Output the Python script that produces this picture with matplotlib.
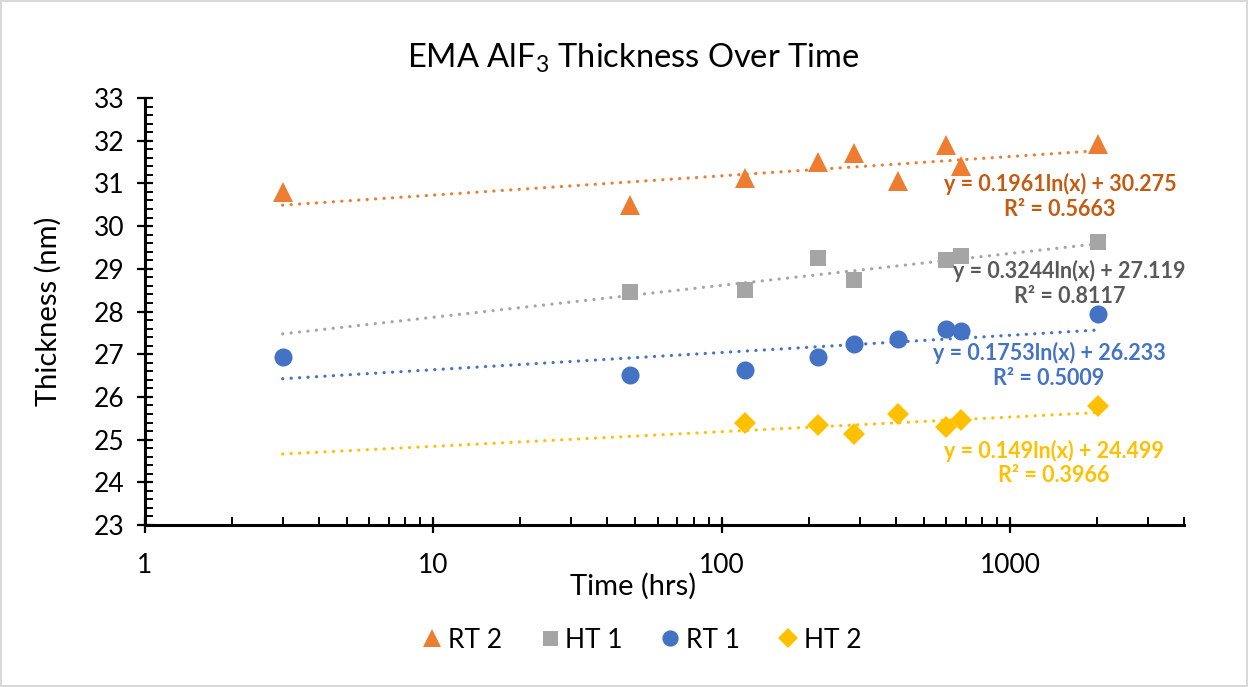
import numpy as np
import matplotlib
matplotlib.use("Agg")
import matplotlib.pyplot as plt
from matplotlib.ticker import FixedLocator, LogLocator, NullFormatter, MultipleLocator
from matplotlib.lines import Line2D

plt.rcParams['font.family'] = ['Lato', 'DejaVu Sans']
plt.rcParams['mathtext.fontset'] = 'custom'
plt.rcParams['mathtext.rm'] = 'Lato'
plt.rcParams['mathtext.default'] = 'regular'

# ---- data ----
series_names = ["RT 2", "HT 1", "RT 1", "HT 2"]
time_rt2 = [3, 48, 120, 216, 288, 408, 600, 672, 2016]
thick_rt2 = [30.79, 30.50, 31.13, 31.50, 31.71, 31.05, 31.89, 31.41, 31.92]
time_ht1 = [48, 120, 216, 288, 600, 672, 2016]
thick_ht1 = [28.45, 28.50, 29.25, 28.74, 29.20, 29.29, 29.63]
time_rt1 = [3, 48, 120, 216, 288, 408, 600, 672, 2016]
thick_rt1 = [26.93, 26.51, 26.62, 26.93, 27.25, 27.36, 27.59, 27.54, 27.93]
time_ht2 = [120, 216, 288, 408, 600, 672, 2016]
thick_ht2 = [25.39, 25.35, 25.14, 25.61, 25.29, 25.45, 25.78]
# log trendline coefficients: y = a ln(x) + b
trend_a = [0.1961, 0.3244, 0.1753, 0.149]
trend_b = [30.275, 27.119, 26.233, 24.499]
trend_r2 = ["0.5663", "0.8117", "0.5009", "0.3966"]
trend_range = [3, 2016]
x_major_ticks = [1, 10, 100, 1000]
x_tick_labels = ["1", "10", "100", "1000"]
y_ticks = list(range(23, 34))

times = [time_rt2, time_ht1, time_rt1, time_ht2]
thicks = [thick_rt2, thick_ht1, thick_rt1, thick_ht2]
colors = ["#ED7D31", "#A5A5A5", "#4472C4", "#FFC000"]
text_colors = ["#C55A11", "#595959", "#4472C4", "#FFC000"]
markers = ["^", "s", "o", "D"]
msizes = [14, 12, 13, 11]
eq_pos = [(0.8807, 0.769), (0.890, 0.5656), (0.870, 0.3735), (0.875, 0.145)]

W, H = 1248, 687
fig = plt.figure(figsize=(W / 100, H / 100), dpi=100)
fig.patch.set_edgecolor("#D9D9D9")
fig.patch.set_linewidth(1.5)

L, R, T, B = 145, 1184, 98, 525
ax = fig.add_axes([L / W, 1 - B / H, (R - L) / W, (B - T) / H])

handles = []
for i in range(4):
    xs = np.geomspace(trend_range[0], trend_range[1], 200)
    ys = trend_a[i] * np.log(xs) + trend_b[i]
    ax.plot(xs, ys, color=colors[i], lw=2.3, linestyle=(0, (0.05, 2.6)),
            dash_capstyle='round', solid_capstyle='round', zorder=2)
    ax.plot(times[i], thicks[i], linestyle='none', marker=markers[i],
            ms=msizes[i], color=colors[i], markeredgewidth=0, zorder=3)
    handles.append(Line2D([], [], linestyle='none', marker=markers[i],
                          ms=msizes[i] * 0.9, color=colors[i], markeredgewidth=0))
    ax.text(eq_pos[i][0], eq_pos[i][1],
            f"y = {trend_a[i]}ln(x) + {trend_b[i]:.3f}\nR² = {trend_r2[i]}",
            transform=ax.transAxes, ha='center', va='center', multialignment='center',
            fontsize=15.5, fontweight='bold', color=text_colors[i], linespacing=1.2,
            zorder=4)

ax.set_xscale('log')
ax.set_xlim(1, 4000)
ax.set_ylim(23, 33)
ax.xaxis.set_major_locator(FixedLocator(x_major_ticks))
ax.set_xticklabels(x_tick_labels)
ax.xaxis.set_minor_locator(LogLocator(base=10, subs=np.arange(2, 10)))
ax.xaxis.set_minor_formatter(NullFormatter())
ax.set_yticks(y_ticks)
ax.yaxis.set_minor_locator(MultipleLocator(0.2))

for s in ['top', 'right']:
    ax.spines[s].set_visible(False)
for s in ['left', 'bottom']:
    ax.spines[s].set_linewidth(2.2)
    ax.spines[s].set_color('black')

ax.tick_params(which='major', direction='inout', length=12, width=1.6,
               labelsize=19, pad=9)
ax.tick_params(axis='x', which='major', pad=14)
ax.tick_params(which='minor', direction='in', length=6, width=1.4)

ax.set_ylabel("Thickness (nm)", fontsize=21)
ax.yaxis.set_label_coords((62 - L) / (R - L), 0.5)
ax.set_xlabel("Time (hrs)", fontsize=21)
ax.xaxis.set_label_coords((633 - L) / (R - L), (B - 573) / (B - T))

fig.text(633 / W, 1 - 58 / H, "EMA AlF$_3$ Thickness Over Time",
         ha='center', va='center', fontsize=23.5)

fig.legend(handles, series_names, loc='center', bbox_to_anchor=(640 / W, 1 - 640 / H),
           ncol=4, frameon=False, fontsize=19, handletextpad=0.1,
           columnspacing=1.3, handlelength=1.0)

fig.savefig("out.png", dpi=100)
